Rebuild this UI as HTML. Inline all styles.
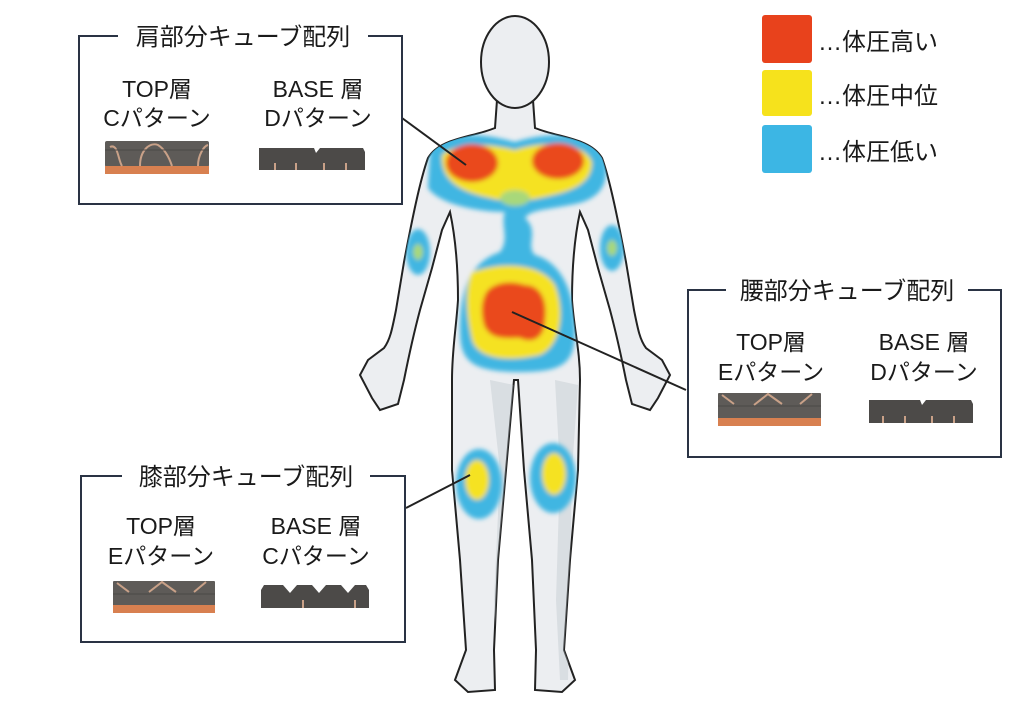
<!DOCTYPE html>
<html><head><meta charset="utf-8"><style>
html,body{margin:0;padding:0;background:#fff;}
svg{display:block}
text{font-family:"Liberation Sans","Noto Sans CJK JP",sans-serif;fill:#1a1a1a}
</style></head><body>
<svg width="1024" height="712" viewBox="0 0 1024 712" xmlns="http://www.w3.org/2000/svg">
<defs>
<filter id="b" x="-20%" y="-20%" width="140%" height="140%"><feGaussianBlur stdDeviation="2.5"/></filter>
<clipPath id="bc"><path id="bodyp" d="M497,100 L495,128 C470,138 440,138 428,158 C420,180 412,220 404,262 L396,310 C392,330 390,340 384,348 L368,360 L360,375 L372,398 L380,410 L398,404 L404,380 C408,360 412,340 420,310 L432,268 L442,230 L450,212 C456,240 458,270 458,300 C456,330 452,350 452,380 L452,470 L460,560 L466,650 L455,680 L468,692 L495,690 L494,650 L498,560 L506,470 L514,380 L518,380 L524,470 L532,560 L536,650 L535,690 L562,692 L575,680 L564,650 L570,560 L578,470 L580,380 C580,350 574,330 572,300 C572,270 574,240 580,212 L588,230 L598,268 L610,310 C618,340 622,360 626,380 L632,404 L650,410 L658,398 L670,375 L662,360 L646,348 C640,340 638,330 634,310 L626,262 C618,220 610,180 602,158 C590,138 560,138 535,128 L533,100 Z"/></clipPath>
</defs>
<use href="#bodyp" fill="#eceef1" stroke="#222" stroke-width="2"/>
<ellipse cx="515" cy="62" rx="34" ry="46" fill="#eceef1" stroke="#222" stroke-width="2"/>
<g clip-path="url(#bc)" opacity="0.35">
<path d="M490,380 L500,470 L494,600 L498,680 L506,680 L512,470 L514,385Z" fill="#b8bfc6"/>
<path d="M555,380 L560,470 L556,600 L560,680 L568,680 L572,470 L578,385Z" fill="#b8bfc6"/>
</g>
<g clip-path="url(#bc)" filter="url(#b)">
<path d="M430,150 C450,128 490,135 515,142 C545,132 590,130 605,158 C610,185 600,200 570,205 C545,210 530,210 525,218 C540,232 525,245 535,255 C560,262 575,290 575,330 C575,362 565,372 520,372 C470,372 460,360 460,330 C460,290 470,262 500,252 C510,238 500,225 505,212 C480,212 440,205 428,188 Z" fill="#3fb6e2"/>
<path d="M442,155 C460,140 495,145 515,150 C545,140 585,142 592,162 C592,185 570,192 540,198 C520,202 505,202 490,198 C460,192 440,180 442,155 Z" fill="#f5e224"/>
<ellipse cx="515" cy="198" rx="15" ry="8" fill="#a8d87a"/>
<path d="M473,272 C500,262 540,262 555,285 C565,310 562,345 540,355 C510,362 478,360 472,340 C465,310 465,285 473,272 Z" fill="#f5e224"/>
<ellipse cx="472" cy="163" rx="26" ry="19" fill="#ea4a1c"/>
<ellipse cx="558" cy="161" rx="26" ry="18" fill="#ea4a1c"/>
<path d="M488,290 C500,280 515,282 525,285 C540,285 548,300 545,320 C545,335 535,345 520,338 C505,338 490,340 484,325 C480,310 482,298 488,290 Z" fill="#ea4a1c"/>
<ellipse cx="418" cy="252" rx="12" ry="23" fill="#3fb6e2"/>
<ellipse cx="418" cy="252" rx="5" ry="8" fill="#a8d87a"/>
<ellipse cx="612" cy="248" rx="12" ry="23" fill="#3fb6e2"/>
<ellipse cx="612" cy="248" rx="5" ry="8" fill="#a8d87a"/>
<ellipse cx="479" cy="484" rx="23" ry="35" fill="#3fb6e2"/>
<ellipse cx="477" cy="480" rx="12" ry="20" fill="#f5e224"/>
<ellipse cx="553" cy="478" rx="23" ry="35" fill="#3fb6e2"/>
<ellipse cx="554" cy="474" rx="12" ry="21" fill="#f5e224"/>
</g>
<g stroke="#222" stroke-width="2">
<line x1="402" y1="118" x2="466" y2="165"/>
<line x1="686" y1="390" x2="512" y2="312"/>
<line x1="406" y1="508" x2="470" y2="475"/>
</g>
<rect x="762" y="15" width="50" height="48" rx="3" fill="#e8421c"/>
<rect x="762" y="70" width="50" height="46" rx="3" fill="#f6e21c"/>
<rect x="762" y="125" width="50" height="48" rx="3" fill="#3cb6e4"/>
<g font-size="24"><text x="818" y="50">…体圧高い</text><text x="818" y="104">…体圧中位</text><text x="818" y="160">…体圧低い</text></g>
<g fill="none" stroke="#2a3344" stroke-width="2">
<path d="M118,36 L79,36 L79,204 L402,204 L402,36 L368,36"/>
<path d="M726,290 L688,290 L688,457 L1001,457 L1001,290 L968,290"/>
<path d="M122,476 L81,476 L81,642 L405,642 L405,476 L370,476"/>
</g>
<g font-size="24" text-anchor="middle">
<text x="243" y="45">肩部分キューブ配列</text>
<text x="847" y="299">腰部分キューブ配列</text>
<text x="246" y="485">膝部分キューブ配列</text>
</g>
<g font-size="23" text-anchor="middle">
<text x="157" y="97">TOP層</text><text x="157" y="126">Cパターン</text>
<text x="318" y="97">BASE 層</text><text x="318" y="126">Dパターン</text>
<text x="771" y="350">TOP層</text><text x="771" y="380">Eパターン</text>
<text x="924" y="350">BASE 層</text><text x="924" y="380">Dパターン</text>
<text x="161" y="534">TOP層</text><text x="161" y="564">Eパターン</text>
<text x="316" y="534">BASE 層</text><text x="316" y="564">Cパターン</text>
</g>
<g>
<rect x="105" y="141" width="104" height="26" rx="2" fill="#5e5b58"/>
<rect x="105" y="166" width="104" height="8" fill="#d88050"/>
<path d="M110,147 C118,143 118,160 122,166 M140,166 C140,150 150,142 158,145 C166,150 170,160 172,166 M198,166 C198,155 204,146 208,145" stroke="#c9a188" stroke-width="2" fill="none"/>
<line x1="105" y1="150" x2="209" y2="150" stroke="#4a4846" stroke-width="1"/>
</g>
<path d="M259,148 L314,148 L316,153 L320,148 L363,148 L365,152 L365,170 L259,170 Z" fill="#4c4a48"/>
<g stroke="#c9a188" stroke-width="2"><line x1="275" y1="163" x2="275" y2="170"/><line x1="296" y1="163" x2="296" y2="170"/><line x1="324" y1="163" x2="324" y2="170"/><line x1="346" y1="163" x2="346" y2="170"/></g>
<rect x="718" y="393" width="103" height="26" rx="1" fill="#5e5b58"/>
<rect x="718" y="418" width="103" height="8" fill="#d88050"/>
<path d="M722,395 L734,404 M754,405 L768,394 L782,404 M812,394 L800,404" stroke="#c9a188" stroke-width="2" fill="none"/>
<line x1="718" y1="406" x2="821" y2="406" stroke="#4a4846"/>
<path d="M869,400 L920,400 L922,405 L926,400 L971,400 L973,404 L973,423 L869,423 Z" fill="#4c4a48"/>
<g stroke="#c9a188" stroke-width="2"><line x1="883" y1="416" x2="883" y2="423"/><line x1="905" y1="416" x2="905" y2="423"/><line x1="932" y1="416" x2="932" y2="423"/><line x1="954" y1="416" x2="954" y2="423"/></g>
<rect x="113" y="581" width="102" height="25" rx="1" fill="#5e5b58"/>
<rect x="113" y="605" width="102" height="8" fill="#d88050"/>
<path d="M117,583 L129,592 M149,592 L162,582 L176,592 M206,582 L194,592" stroke="#c9a188" stroke-width="2" fill="none"/>
<line x1="113" y1="594" x2="215" y2="594" stroke="#4a4846"/>
<path d="M264,585 L283,585 L290,593 L297,585 L312,585 L319,593 L326,585 L341,585 L348,593 L355,585 L366,585 L369,590 L369,608 L261,608 L261,590 Z" fill="#4c4a48"/>
<g stroke="#c9a188" stroke-width="2"><line x1="303" y1="600" x2="303" y2="608"/><line x1="355" y1="600" x2="355" y2="608"/></g>
</svg>
</body></html>
